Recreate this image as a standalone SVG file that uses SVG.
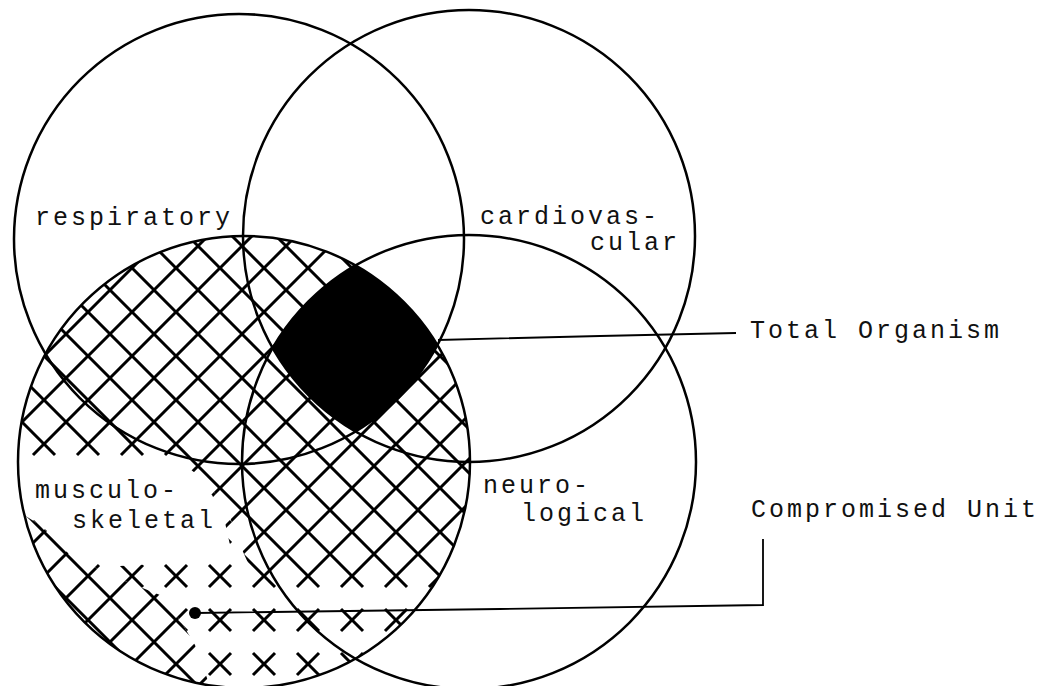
<svg xmlns="http://www.w3.org/2000/svg" width="1038" height="686" viewBox="0 0 1038 686">
<style>
.ring{fill:none;stroke:#000;stroke-width:2.5}
.lbl{font-family:"Liberation Mono","DejaVu Sans Mono",monospace;font-size:25px;letter-spacing:3px;fill:#111}
.conn{fill:none;stroke:#000;stroke-width:1.8}
.hatch{fill:none;stroke:#000;stroke-width:3}
</style>
<defs>
  <pattern id="lattice" patternUnits="userSpaceOnUse" x="0" y="4" width="44" height="44">
    <path class="hatch" d="M-54,-10 L10,54 M-10,-10 L54,54 M34,-10 L98,54 M10,-10 L-54,54 M54,-10 L-10,54 M98,-10 L34,54"/>
  </pattern>
  <pattern id="crosses" patternUnits="userSpaceOnUse" x="0" y="4" width="44" height="44">
    <path class="hatch" d="M-11,-11 L11,11 M11,-11 L-11,11 M33,-11 L55,11 M55,-11 L33,11 M-11,33 L11,55 M11,33 L-11,55 M33,33 L55,55 M55,33 L33,55"/>
  </pattern>
  <clipPath id="mclip"><circle cx="244" cy="462" r="226"/></clipPath>
  <clipPath id="fullzone">
    <polygon points="0,0 1038,0 1038,572 252,572 240,545 228,512 207,482 178,460 150,440 0,440"/>
    <polygon points="0,500 40,525 70,555 110,575 160,595 180,620 195,645 215,700 0,700"/>
  </clipPath>
  <mask id="xmask" maskUnits="userSpaceOnUse" x="0" y="0" width="1038" height="686">
    <rect x="0" y="0" width="1038" height="686" fill="#fff"/>
    <polygon fill="#000" points="0,0 1038,0 1038,572 252,572 240,545 228,512 207,482 178,460 150,440 0,440"/>
    <polygon fill="#000" points="0,500 40,525 70,555 110,575 160,595 180,620 195,645 215,700 0,700"/>
    <polygon fill="#000" points="0,462 40,470 100,471 140,466 165,466 192,478 212,495 224,518 230,545 215,562 170,563 120,566 85,562 55,538 30,516 0,500"/>
  </mask>
</defs>
<rect x="0" y="0" width="1038" height="686" fill="#fff"/>

<g id="node-musculoskeletal">
  <g clip-path="url(#mclip)">
    <rect x="0" y="0" width="1038" height="686" fill="url(#lattice)" clip-path="url(#fullzone)"/>
    <rect x="0" y="0" width="1038" height="686" fill="url(#crosses)" mask="url(#xmask)"/>
  </g>
  <circle class="ring" cx="244" cy="462" r="226"/>
  <text class="lbl" x="35" y="498">musculo-</text>
  <text class="lbl" x="72" y="528">skeletal</text>
</g>

<g id="node-respiratory">
  <circle class="ring" cx="239" cy="239" r="225"/>
  <text class="lbl" x="35" y="225">respiratory</text>
</g>

<g id="node-cardiovascular">
  <circle class="ring" cx="469" cy="236" r="226"/>
  <text class="lbl" x="480" y="224">cardiovas-</text>
  <text class="lbl" x="590" y="250">cular</text>
</g>

<g id="node-neurological">
  <circle class="ring" cx="469" cy="462" r="227"/>
  <text class="lbl" x="483" y="493">neuro-</text>
  <text class="lbl" x="521" y="521">logical</text>
</g>

<g id="node-total-organism">
  <path fill="#000" stroke="#000" stroke-width="1" d="M355.5,265.4 A226,226 0 0 1 437.5,345.1 A225,225 0 0 1 355.5,431.5 A226,226 0 0 1 272.7,348 A227,227 0 0 1 355.5,265.4 Z"/>
  <text class="lbl" x="750" y="338">Total Organism</text>
</g>

<g id="node-compromised-unit">
  <text class="lbl" x="751" y="517">Compromised Unit</text>
</g>

<g id="connectors">
  <polyline class="conn" points="438,340 600,336 736,333"/>
  <polyline class="conn" points="196,613 500,609 763,605 763,539"/>
  <circle cx="195" cy="613" r="6" fill="#000"/>
</g>
</svg>
